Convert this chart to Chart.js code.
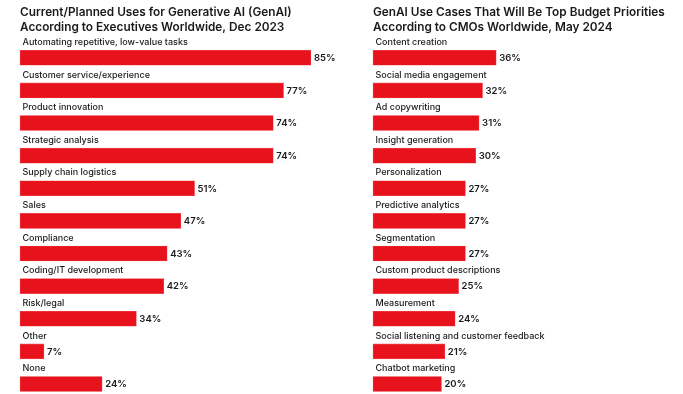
<!DOCTYPE html>
<html>
<head>
<meta charset="utf-8">
<script src="https://cdn.jsdelivr.net/npm/chart.js@4/dist/chart.umd.min.js"></script>
<style>
  html, body { margin: 0; padding: 0; background: #fff; }
  .row { display: flex; width: 683px; height: 394px; }
  .box { position: relative; height: 394px; }
</style>
</head>
<body>
<div class="row">
  <div class="box" style="width:340px"><canvas id="c1"></canvas></div>
  <div class="box" style="width:343px"><canvas id="c2"></canvas></div>
</div>
<script>
const leftTitle = ['Current/Planned Uses for Generative AI (GenAI)', 'According to Executives Worldwide, Dec 2023'];
const leftCategories = ['Automating repetitive, low-value tasks', 'Customer service/experience', 'Product innovation', 'Strategic analysis', 'Supply chain logistics', 'Sales', 'Compliance', 'Coding/IT development', 'Risk/legal', 'Other', 'None'];
const leftValues = [85, 77, 74, 74, 51, 47, 43, 42, 34, 7, 24];

const rightTitle = ['GenAI Use Cases That Will Be Top Budget Priorities', 'According to CMOs Worldwide, May 2024'];
const rightCategories = ['Content creation', 'Social media engagement', 'Ad copywriting', 'Insight generation', 'Personalization', 'Predictive analytics', 'Segmentation', 'Custom product descriptions', 'Measurement', 'Social listening and customer feedback', 'Chatbot marketing'];
const rightValues = [36, 32, 31, 30, 27, 27, 27, 25, 24, 21, 20];

const RED = '#e8121d';
const TEXT = '#1a1a1a';
const FONT = 'Inter, "Noto Sans", sans-serif';

const labelPlugin = {
  id: 'barLabels',
  afterDatasetsDraw(chart) {
    const ctx = chart.ctx;
    const meta = chart.getDatasetMeta(0);
    const cats = chart.data.labels;
    const vals = chart.data.datasets[0].data;
    meta.data.forEach((bar, i) => {
      ctx.save();
      ctx.fillStyle = TEXT;
      ctx.textBaseline = 'middle';
      ctx.textAlign = 'left';
      ctx.font = '500 9px ' + FONT;
      ctx.fillText(cats[i], bar.base + 2.5, bar.y - 15.5);
      ctx.font = '600 9.5px ' + FONT;
      ctx.fillText(vals[i] + '%', bar.x + 3, bar.y + 0.5);
      ctx.restore();
    });
  }
};

function makeChart(id, title, cats, vals, padLeft, padRight) {
  return new Chart(document.getElementById(id), {
    type: 'bar',
    data: {
      labels: cats,
      datasets: [{
        data: vals,
        backgroundColor: RED,
        borderColor: '#f0505a',
        borderWidth: 0.6,
        borderSkipped: false,
        barThickness: 15,
        clip: false
      }]
    },
    options: {
      indexAxis: 'y',
      responsive: true,
      maintainAspectRatio: false,
      animation: false,
      layout: { padding: { left: padLeft, right: padRight, top: 0, bottom: 10 } },
      scales: {
        x: { display: false, min: 0, max: 90 },
        y: { display: false, offset: false }
      },
      plugins: {
        legend: { display: false },
        tooltip: { enabled: false },
        title: {
          display: true,
          text: title,
          align: 'start',
          color: TEXT,
          font: { family: FONT, size: 11.8, weight: '600', lineHeight: 1.22 },
          padding: { top: 5.5, bottom: 23.5 }
        }
      }
    },
    plugins: [labelPlugin]
  });
}

makeChart('c1', leftTitle, leftCategories, leftValues, 20, 12);
makeChart('c2', rightTitle, rightCategories, rightValues, 33, 2);
</script>
</body>
</html>
